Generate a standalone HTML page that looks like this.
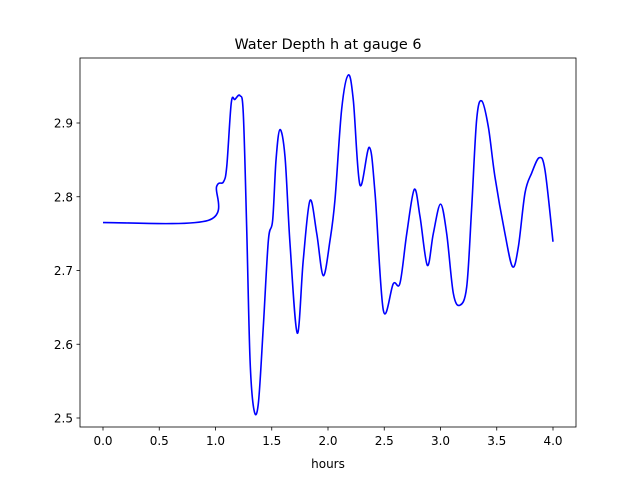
<!DOCTYPE html>
<html><head><meta charset="utf-8"><style>
body{margin:0;background:#fff}
svg text{font-family:"DejaVu Sans","Liberation Sans",sans-serif;fill:#000}
</style></head><body>
<svg id="chart" width="640" height="480" xmlns="http://www.w3.org/2000/svg">
<rect width="640" height="480" fill="#fff"/>
<text x="328" y="49" font-size="14.4" text-anchor="middle">Water Depth h at gauge 6</text>
<g id="ticks"></g>
<path id="line" fill="none" stroke="#0000ff" stroke-width="1.6" stroke-linejoin="round"/>
<rect x="80" y="58" width="496" height="369" fill="none" stroke="#000" stroke-width="0.8"/>
<text x="328" y="468" font-size="12" text-anchor="middle">hours</text>
</svg>
<script>
const times=[0,0.936,1.01,1.07,1.10,1.14,1.173,1.218,1.247,1.277,1.307,1.342,1.381,1.425,1.47,1.508,1.538,1.573,1.618,1.662,1.727,1.78,1.84,1.90,1.958,2.018,2.062,2.121,2.18,2.225,2.284,2.367,2.418,2.492,2.58,2.64,2.70,2.767,2.818,2.883,2.936,3.0,3.055,3.114,3.173,3.233,3.276,3.321,3.366,3.425,3.484,3.573,3.641,3.692,3.751,3.81,3.878,3.929,4.0];
const depths=[2.765,2.768,2.814,2.820,2.841,2.927,2.932,2.937,2.913,2.759,2.579,2.511,2.520,2.624,2.741,2.768,2.850,2.891,2.854,2.737,2.615,2.714,2.795,2.75,2.693,2.741,2.796,2.918,2.965,2.931,2.816,2.867,2.805,2.646,2.682,2.683,2.75,2.81,2.773,2.707,2.75,2.79,2.75,2.669,2.653,2.678,2.782,2.904,2.930,2.895,2.827,2.75,2.705,2.732,2.805,2.832,2.853,2.836,2.739];
const xTicks=[0,0.5,1,1.5,2,2.5,3,3.5,4];
const xTickLabels=["0.0","0.5","1.0","1.5","2.0","2.5","3.0","3.5","4.0"];
const yTicks=[2.5,2.6,2.7,2.8,2.9];
const yTickLabels=["2.5","2.6","2.7","2.8","2.9"];
const X=t=>103+t*112.5;
const Y=v=>418-(v-2.5)*737.5;
const NS="http://www.w3.org/2000/svg";
const g=document.getElementById('ticks');
xTicks.forEach((t,i)=>{
  const l=document.createElementNS(NS,'line');
  
  
  l.setAttribute('x1',X(t));l.setAttribute('x2',X(t));l.setAttribute('y1',427);l.setAttribute('y2',430.5);l.setAttribute('stroke','#000');l.setAttribute('stroke-width','0.8');
  g.appendChild(l);
  const tx=document.createElementNS(NS,'text');
  
  
  tx.setAttribute('x',X(t));tx.setAttribute('y',445);tx.setAttribute('font-size','12');tx.setAttribute('text-anchor','middle');
  tx.textContent=xTickLabels[i];g.appendChild(tx);
});
yTicks.forEach((v,i)=>{
  const l=document.createElementNS(NS,'line');
  
  
  l.setAttribute('x1',76.5);l.setAttribute('x2',80);l.setAttribute('y1',Y(v));l.setAttribute('y2',Y(v));l.setAttribute('stroke','#000');l.setAttribute('stroke-width','0.8');
  g.appendChild(l);
  const tx=document.createElementNS(NS,'text');
  
  
  tx.setAttribute('x',73);tx.setAttribute('y',Y(v)+4.5);tx.setAttribute('font-size','12');tx.setAttribute('text-anchor','end');
  tx.textContent=yTickLabels[i];g.appendChild(tx);
});
const pts=times.map((t,i)=>[X(t),Y(depths[i])]);
let d='M'+pts[0][0]+','+pts[0][1];
for(let i=0;i<pts.length-1;i++){
  const p0=pts[Math.max(i-1,0)],p1=pts[i],p2=pts[i+1],p3=pts[Math.min(i+2,pts.length-1)];
  const c1=[p1[0]+(p2[0]-p0[0])/6,p1[1]+(p2[1]-p0[1])/6];
  const c2=[p2[0]-(p3[0]-p1[0])/6,p2[1]-(p3[1]-p1[1])/6];
  d+=` C${c1[0]},${c1[1]} ${c2[0]},${c2[1]} ${p2[0]},${p2[1]}`;
}
document.getElementById('line').setAttribute('d',d);
</script>
</body></html>
